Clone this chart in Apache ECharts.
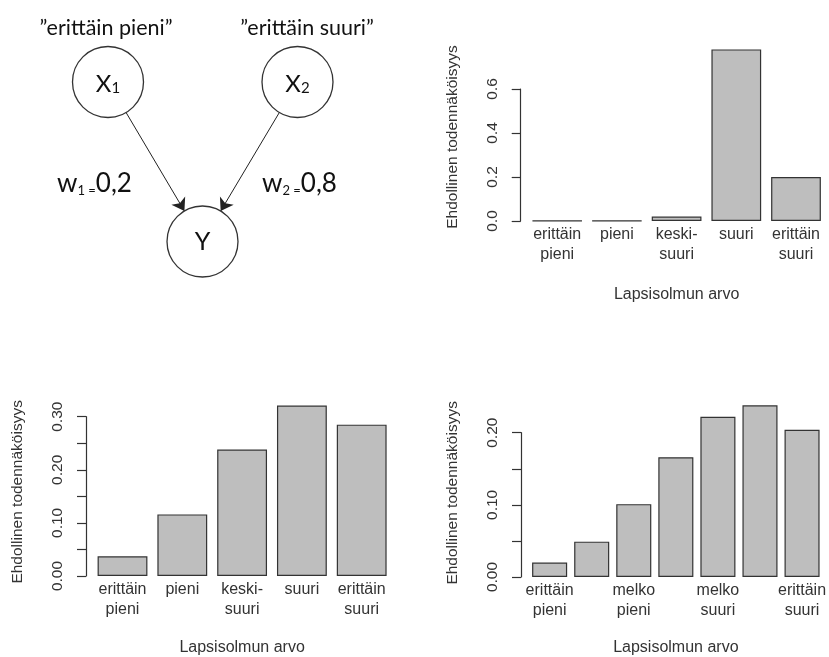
<!DOCTYPE html>
<html><head><meta charset="utf-8">
<script src="https://cdn.jsdelivr.net/npm/echarts@6/dist/echarts.min.js"></script>
<style>html,body{margin:0;padding:0;background:#fff}#c{width:829px;height:657px}</style>
</head><body><div id="c"></div>
<script>
// ---- data ----
const catsFive = ['erittäin\npieni', 'pieni', 'keski-\nsuuri', 'suuri', 'erittäin\nsuuri'];
const valsTop = [0.001, 0.001, 0.02, 0.78, 0.20];
const valsBottomLeft = [0.037, 0.116, 0.238, 0.321, 0.285];
const catsSeven = ['erittäin\npieni', ' ', 'melko\npieni', '  ', 'melko\nsuuri', '   ', 'erittäin\nsuuri'];
const valsBottomRight = [0.020, 0.049, 0.101, 0.166, 0.222, 0.238, 0.204];
const tickLabelsTop = ['0.0', '0.2', '0.4', '0.6'];
const tickLabelsBottomLeft = ['0.00', '0.10', '0.20', '0.30'];
const tickLabelsBottomRight = ['0.00', '0.10', '0.20'];
const yTitle = 'Ehdollinen todennäköisyys';
const xTitle = 'Lapsisolmun arvo';
const nodeNames = ['X1', 'X2', 'Y'];
const nodeLinks = [['X1', 'Y'], ['X2', 'Y']];
const parentStates = ['”erittäin pieni”', '”erittäin suuri”'];
const weights = ['0,2', '0,8'];

// ---- layout (diagram positions, px) ----
const nodePos = { X1: [108, 82], X2: [297.5, 82], Y: [202.5, 241.5] };

const FONT = 'Liberation Sans';
const TXT = '#333';

function mkFormatter(labels, dec) {
  return function (v) { const s = v.toFixed(dec); return labels.indexOf(s) >= 0 ? s : ''; };
}
function yAxisCfg(gi, max, interval, labels, dec, offset, shift) {
  return {
    type: 'value', gridIndex: gi, min: 0, max: max, interval: interval, offset: offset,
    splitLine: { show: false },
    axisLine: { show: true, lineStyle: { color: TXT, width: 1.2 } },
    axisTick: { show: true, length: 9, lineStyle: { color: TXT, width: 1.2 } },
    axisLabel: { rotate: 90, margin: 20, fontFamily: FONT, fontSize: 15.5, color: TXT, formatter: mkFormatter(labels, dec) },
    name: yTitle, nameLocation: 'middle', nameGap: 60,
    nameTextStyle: { fontFamily: FONT, fontSize: 15.5, color: TXT, padding: [0, 0, 0, shift * 2] }
  };
}
function xAxisCfg(gi, cats, gap) {
  return {
    type: 'category', gridIndex: gi, data: cats,
    axisLine: { show: false }, axisTick: { show: false },
    axisLabel: { interval: 0, margin: 4, fontFamily: FONT, fontSize: 16, color: TXT, lineHeight: 20 },
    name: xTitle, nameLocation: 'middle', nameGap: gap,
    nameTextStyle: { fontFamily: FONT, fontSize: 16, color: TXT }
  };
}
function barSeries(i, vals) {
  return {
    type: 'bar', xAxisIndex: i, yAxisIndex: i, data: vals, clip: false,
    barCategoryGap: '16.67%', silent: true,
    itemStyle: { color: '#bebebe', borderColor: '#333', borderWidth: 1.2 }
  };
}
const richW = {
  w: { fontFamily: 'Lato', fontSize: 26, fill: '#111', verticalAlign: 'bottom', lineHeight: 30 },
  s: { fontFamily: 'Lato', fontSize: 13, fill: '#111', verticalAlign: 'bottom', lineHeight: 23 },
  n: { fontFamily: 'Lato', fontSize: 26, fill: '#111', verticalAlign: 'bottom', lineHeight: 30 }
};

const chart = echarts.init(document.getElementById('c'), null, { renderer: 'canvas' });
const option = {
  animation: false,
  backgroundColor: '#fff',
  grid: [
    { left: 527.35, top: 89, width: 298.5, height: 132 },
    { left: 92.6, top: 416.7, width: 299, height: 160.6 },
    { left: 528.6, top: 432.7, width: 295.4, height: 145 },
    { left: 0, top: 0, width: 400, height: 280 }
  ],
  xAxis: [
    xAxisCfg(0, catsFive, 66),
    xAxisCfg(1, catsFive, 64),
    xAxisCfg(2, catsSeven, 63),
    { type: 'value', gridIndex: 3, min: 0, max: 400, show: false }
  ],
  yAxis: [
    yAxisCfg(0, 0.6, 0.2, tickLabelsTop, 1, 6.65, 18),
    yAxisCfg(1, 0.3, 0.05, tickLabelsBottomLeft, 2, 6.6, 4.5),
    yAxisCfg(2, 0.2, 0.05, tickLabelsBottomRight, 2, 7.6, 12),
    { type: 'value', gridIndex: 3, min: 0, max: 280, inverse: true, show: false }
  ],
  series: [
    barSeries(0, valsTop),
    barSeries(1, valsBottomLeft),
    barSeries(2, valsBottomRight),
    {
      type: 'graph', coordinateSystem: 'cartesian2d', xAxisIndex: 3, yAxisIndex: 3,
      silent: true, symbol: 'circle', symbolSize: 71,
      itemStyle: { color: '#fff', borderColor: '#333', borderWidth: 1.3 },
      label: {
        show: true, position: 'inside',
        formatter: function (p) {
          return p.name === 'Y' ? '{y|Y}' : '{b|X}{s|' + p.name.slice(1) + '}';
        },
        rich: {
          b: { fontFamily: 'Lato', fontSize: 24, color: '#111', verticalAlign: 'bottom', lineHeight: 28 },
          s: { fontFamily: 'Lato', fontSize: 15, color: '#111', verticalAlign: 'bottom', lineHeight: 23 },
          y: { fontFamily: 'Lato', fontSize: 25, color: '#111' }
        }
      },
      edgeSymbol: ['none', 'arrow'], edgeSymbolSize: [0, 12],
      lineStyle: { color: '#222', width: 1, opacity: 1, curveness: 0 },
      emphasis: { disabled: true },
      data: nodeNames.map(function (n) { return { name: n, value: nodePos[n] }; }),
      links: nodeLinks.map(function (l) { return { source: l[0], target: l[1] }; })
    }
  ],
  graphic: [
    { type: 'text', x: 106, y: 28, style: { text: parentStates[0], fontFamily: 'Lato', fontSize: 21.5, fill: '#111', align: 'center', verticalAlign: 'middle' } },
    { type: 'text', x: 307, y: 28, style: { text: parentStates[1], fontFamily: 'Lato', fontSize: 21.5, fill: '#111', align: 'center', verticalAlign: 'middle' } },
    { type: 'text', x: 57, y: 182, style: {
        text: '{w|w}{s|1 =}{n|' + weights[0] + '}', align: 'left', verticalAlign: 'middle', rich: richW } },
    { type: 'text', x: 262, y: 182, style: {
        text: '{w|w}{s|2 =}{n|' + weights[1] + '}', align: 'left', verticalAlign: 'middle', rich: richW } }
  ]
};
chart.setOption(option);
</script>
</body></html>
